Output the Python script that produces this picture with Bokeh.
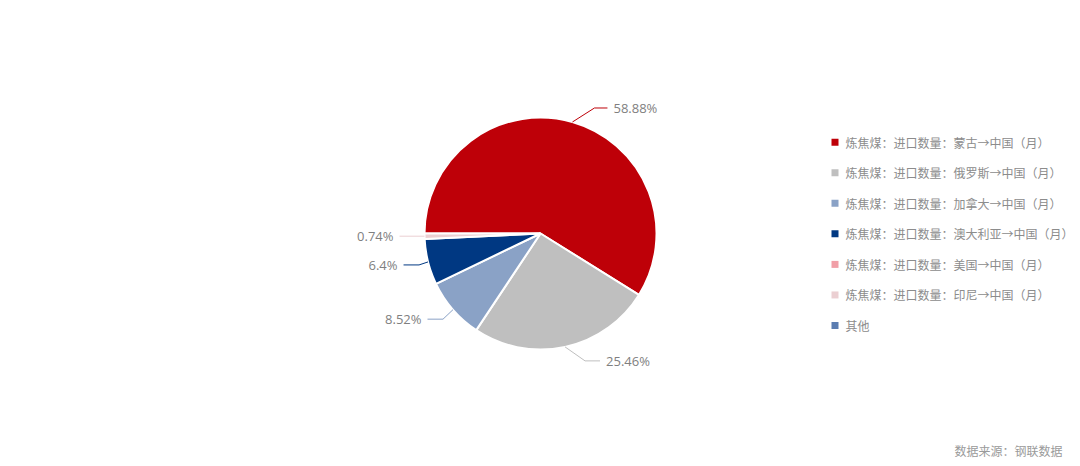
import numpy as np
from bokeh.plotting import figure
from bokeh.models import Range1d, ColumnDataSource
from bokeh.embed import file_html
from bokeh.resources import INLINE
from bokeh.core.properties import value

# ---- data ----
categories = [
    "炼焦煤：进口数量：蒙古→中国（月）",
    "炼焦煤：进口数量：俄罗斯→中国（月）",
    "炼焦煤：进口数量：加拿大→中国（月）",
    "炼焦煤：进口数量：澳大利亚→中国（月）",
    "炼焦煤：进口数量：美国→中国（月）",
    "炼焦煤：进口数量：印尼→中国（月）",
    "其他",
]
shares = [58.88, 25.46, 8.52, 6.4, 0.0, 0.74, 0.0]
colors = ["#BE0008", "#BFBFBF", "#8AA2C6", "#003882", "#F19FA7", "#EBCFD2", "#5B7DB1"]
source_note = "数据来源：钢联数据"

# ---- layout (pixels) ----
W, H = 1080, 466
def sx(x): return x
def sy(y): return H - y

cx, cy, R = sx(540), sy(233), 116
# leader-line elbow offsets (screen dx, dy) and horizontal run per slice
elbow = {0: (22, -14, 13), 1: (20, 14, 15), 2: (-10, 9.5, -15.5), 3: (-9, 3, -15.5), 5: (0, 0, -25)}

p = figure(width=W, height=H, x_range=Range1d(0, W), y_range=Range1d(0, H),
           output_backend="svg", toolbar_location=None, min_border=0)
p.axis.visible = False
p.grid.visible = False
p.outline_line_color = None
p.background_fill_color = "white"
p.border_fill_color = "white"

total = sum(shares)
start = np.pi
ws, we, wc, mids, idx = [], [], [], [], []
for i, v in enumerate(shares):
    if v <= 0:
        continue
    span = 2 * np.pi * v / total
    ws.append(start)
    we.append(start - span)
    wc.append(colors[i])
    mids.append(start - span / 2)
    idx.append(i)
    start -= span

p.wedge(x=cx, y=cy, radius=R, start_angle=ws, end_angle=we, direction="clock",
        fill_color=wc, line_color="white", line_width=2)

# leader lines + labels
xs, ys, lc = [], [], []
tx, ty, tt, ta = [], [], [], []
for m, i in zip(mids, idx):
    rx = cx + R * np.cos(m)
    ry = cy + R * np.sin(m)
    dx, dy, run = elbow[i]
    ex, ey = rx + dx, ry - dy
    hx = ex + run
    xs.append([rx, ex, hx]); ys.append([ry, ey, ey]); lc.append(colors[i])
    gap = 6 if run > 0 else -6
    tx.append(hx + gap); ty.append(ey)
    tt.append(f"{shares[i]:g}%")
    ta.append("left" if run > 0 else "right")
p.multi_line(xs=xs, ys=ys, line_color=lc, line_width=1)
p.text(x=tx, y=ty, text=tt, text_align=ta, text_baseline="middle",
       text_font=value("Open Sans"), text_font_size="13px", text_color="#7F7F7F")

# legend
ly = [sy(141.7 + k * 30.55) for k in range(len(categories))]
p.rect(x=[sx(834.5)] * len(categories), y=ly, width=7, height=7,
       fill_color=colors, line_color=None)
p.text(x=[sx(845)] * len(categories), y=ly, text=categories, text_baseline="middle",
       text_font=value("Noto Sans CJK SC"), text_font_size="12px", text_color="#8C8C8C")

# source
p.text(x=[sx(1062)], y=[sy(450)], text=[source_note], text_align="right", text_baseline="middle",
       text_font=value("Noto Sans CJK SC"), text_font_size="12px", text_color="#9A9A9A")

open("out.html", "w").write(file_html(p, INLINE))
